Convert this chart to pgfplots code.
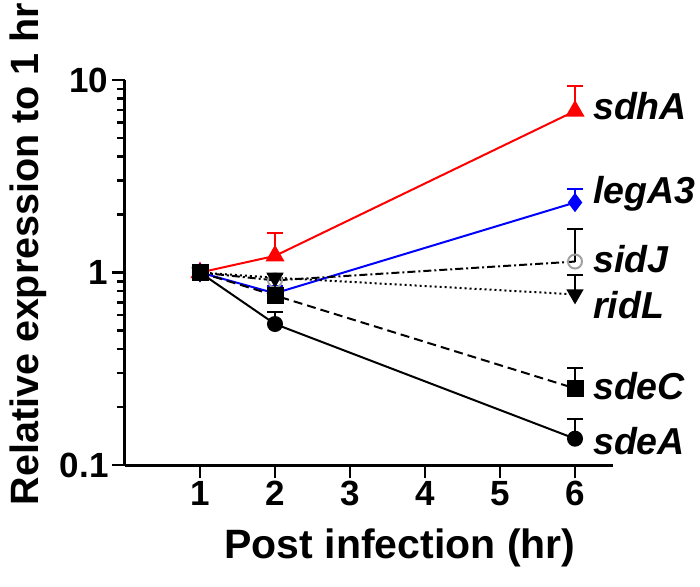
\documentclass[border=0pt]{standalone}
\usepackage{fontspec}
\setmainfont{Liberation Sans}
\usepackage{pgfplots}
\pgfplotsset{compat=1.18}
\definecolor{markgray}{RGB}{160,160,160}

\begin{document}
\begin{tikzpicture}
\begin{axis}[
  name=ax,
  scale only axis, width=487.5pt, height=385pt,
  xmin=0, xmax=6.5, ymin=0.1, ymax=10, ymode=log,
  axis lines*=left,
  axis line style={line width=3pt},
  xtick={1,2,3,4,5,6},
  ytick={0.1,1,10}, yticklabels={0.1,1,10},
  minor ytick={0.2,0.3,0.4,0.5,0.6,0.7,0.8,0.9,2,3,4,5,6,7,8,9},
  tick align=outside, major tick length=13pt, minor tick length=8pt,
  every tick/.style={line width=2.5pt, black},
  tick label style={font=\fontsize{35}{38}\selectfont\bfseries},
  /pgf/number format/assume math mode=true,
  xlabel={Post infection (hr)},
  ylabel={Relative expression to 1 hr},
  label style={inner sep=0pt},
  xlabel style={font=\fontsize{41}{46}\selectfont\bfseries, at={(axis description cs:0.564,-0.216)}, anchor=center},
  ylabel style={font=\fontsize{39.5}{46}\selectfont\bfseries, at={(axis description cs:-0.199,0.548)}, anchor=center},
  clip=false,
  error bars/y dir=plus, error bars/y explicit,
  error bars/error bar style={line width=2pt, solid},
  error bars/error mark options={rotate=90, mark size=8pt, line width=2pt, solid},
]
% sdhA
\addplot[red, line width=2pt, mark=triangle*, mark size=9pt,
  error bars/error bar style={red, line width=2pt, solid},
  error bars/error mark options={red, rotate=90, mark size=8pt, line width=2pt, solid}]
  coordinates {(1,1) +- (0,0) (2,1.22) +- (0,0.39) (6,6.9) +- (0,2.45)};
% legA3
\addplot[blue, line width=2pt, mark=diamond*, mark size=8pt,
  error bars/error bar style={blue, line width=2pt, solid},
  error bars/error mark options={blue, rotate=90, mark size=8pt, line width=2pt, solid}]
  coordinates {(1,1) +- (0,0) (2,0.78) +- (0,0.075) (6,2.31) +- (0,0.42)};
% sidJ
\addplot[black, line width=2pt, dash pattern=on 8pt off 3pt on 2pt off 3pt,
  mark=o, mark size=7pt, mark options={markgray, solid, line width=2pt}]
  coordinates {(1,1) +- (0,0) (2,0.91) +- (0,0.03) (6,1.14) +- (0,0.55)};
% ridL
\addplot[black, line width=2pt, dash pattern=on 2pt off 3pt,
  mark=triangle*, mark size=8pt, mark options={solid, rotate=180}]
  coordinates {(1,1) +- (0,0) (2,0.94) +- (0,0.04) (6,0.77) +- (0,0.2)};
% sdeA
\addplot[black, line width=2pt, mark=*, mark size=7pt]
  coordinates {(1,1) +- (0,0) (2,0.54) +- (0,0.08) (6,0.137) +- (0,0.037)};
% sdeC
\addplot[black, line width=2pt, dash pattern=on 9pt off 5pt,
  mark=square*, mark size=7.5pt, mark options={solid}]
  coordinates {(1,1) +- (0,0) (2,0.76) +- (0,0.04) (6,0.25) +- (0,0.07)};

\begin{scope}[every node/.style={anchor=west, inner sep=0pt, text depth=0pt, font=\fontsize{37.5}{44}\selectfont\bfseries\itshape}]
\node at (axis cs:6.24,7.37) {sdhA};
\node at (axis cs:6.24,2.67) {legA3};
\node at (axis cs:6.24,1.17) {sidJ};
\node at (axis cs:6.24,0.68) {ridL};
\node at (axis cs:6.24,0.259) {sdeC};
\node at (axis cs:6.24,0.134) {sdeA};
\end{scope}
\end{axis}
% fix the page to the reference's 700x586 frame
\pgfresetboundingbox
\path[use as bounding box] ([shift={(-125pt,-121pt)}]ax.south west) rectangle ([shift={(575pt,465pt)}]ax.south west);
\end{tikzpicture}
\end{document}
